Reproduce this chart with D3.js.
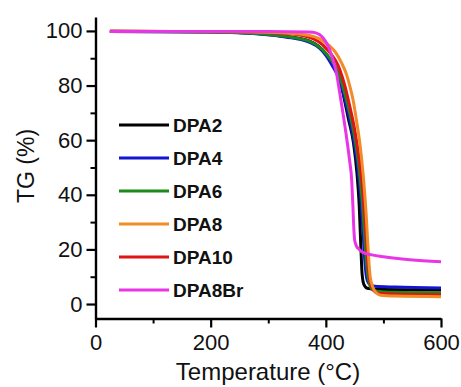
<!DOCTYPE html>
<html>
<head>
<meta charset="utf-8">
<script src="https://cdn.jsdelivr.net/npm/d3@7"></script>
<style>
  body { margin: 0; background: #fff; }
  svg { display: block; }
</style>
</head>
<body>
<div id="chart"></div>
<script>
// TG curves: [temperature °C, TG %]
const dpa2 = [[25, 99.9], [200, 99.7], [285, 99.0], [330, 98.0], [372, 96.3], [401, 91.5], [412, 88], [424, 82.5], [430, 77], [439, 68], [448, 59], [454, 48], [458, 36], [461, 20], [463, 11], [466, 7.2], [472, 5.8], [490, 5.4], [600, 5.1]];
const dpa4 = [[25, 99.8], [200, 99.6], [285, 98.9], [330, 97.8], [372, 95.8], [390, 93.5], [401, 90.8], [412, 87], [424, 82], [433, 75], [442, 67], [450, 58], [456, 49], [461, 38], [465, 25], [468, 15], [471, 9.5], [476, 7.2], [485, 6.5], [520, 6.2], [600, 5.9]];
const dpa6 = [[25, 99.8], [200, 99.6], [285, 99.0], [330, 98.0], [372, 96.2], [401, 91.5], [424, 83.5], [433, 77], [442, 69.5], [450, 61], [457, 51], [463, 38], [467, 26], [471, 14], [475, 8], [480, 5.5], [490, 4.6], [520, 4.3], [600, 4.1]];
const dpa8 = [[25, 99.9], [250, 99.7], [330, 99.2], [370, 98.4], [390, 97.0], [405, 94.8], [418, 91.8], [428, 88], [436, 84], [442, 79.5], [448, 74], [453, 67.5], [459, 59], [465, 47], [470, 33], [474, 18], [477, 10], [482, 6], [488, 4], [495, 3.2], [520, 2.9], [600, 2.7]];
const dpa10 = [[25, 99.9], [250, 99.7], [330, 99.0], [370, 97.8], [401, 93.5], [424, 86], [433, 80], [442, 72], [450, 64], [458, 53], [464, 42], [469, 28], [473, 15], [477, 8], [483, 5], [490, 4], [520, 3.6], [600, 3.4]];
const dpa8Br = [[25, 99.8], [300, 99.8], [370, 99.6], [384, 99.2], [395, 97.5], [405, 94], [413, 89], [419, 84], [424, 77.5], [430, 69.5], [436, 61], [441, 53], [445, 45], [447, 36], [448.5, 28], [450, 23.5], [453, 21.3], [458, 20], [465, 18.8], [480, 18], [500, 17.3], [546, 16.2], [600, 15.5]];

const seriesNames = ["DPA2", "DPA4", "DPA6", "DPA8", "DPA10", "DPA8Br"];
const seriesData = [dpa2, dpa4, dpa6, dpa8, dpa10, dpa8Br];
const seriesColors = ["#000000", "#1414d2", "#1b8a1b", "#f28c28", "#e01414", "#ea35e6"];
// drawing order (red sits under orange, magenta on top)
const drawOrder = [0, 1, 2, 4, 3, 5];

const xMajor = [0, 200, 400, 600];
const xMinor = [100, 300, 500];
const yMajor = [0, 20, 40, 60, 80, 100];
const yMinor = [10, 30, 50, 70, 90];

const width = 461, height = 387;
const font = "Arial, 'Liberation Sans', sans-serif";

const svg = d3.select("#chart").append("svg")
    .attr("width", width)
    .attr("height", height)
    .style("font-family", font);

const x = d3.scaleLinear().domain([0, 600]).range([95.5, 441]);
const y = d3.scaleLinear().domain([-5.3, 105.1]).range([318.5, 17]);

// minor ticks
svg.append("g")
    .attr("transform", `translate(0,${y.range()[0]})`)
    .call(d3.axisBottom(x).tickValues(xMinor).tickSize(5).tickFormat(""))
    .call(g => g.select(".domain").remove())
    .selectAll("line").attr("stroke-width", 2);
svg.append("g")
    .attr("transform", `translate(${x.range()[0]},0)`)
    .call(d3.axisLeft(y).tickValues(yMinor).tickSize(5).tickFormat(""))
    .call(g => g.select(".domain").remove())
    .selectAll("line").attr("stroke-width", 2);

// major axes
const xAxis = svg.append("g")
    .attr("transform", `translate(0,${y.range()[0]})`)
    .call(d3.axisBottom(x).tickValues(xMajor).tickSize(9).tickSizeOuter(0).tickPadding(7));
const yAxis = svg.append("g")
    .attr("transform", `translate(${x.range()[0]},0)`)
    .call(d3.axisLeft(y).tickValues(yMajor).tickSize(9).tickSizeOuter(0).tickPadding(4));

[xAxis, yAxis].forEach(g => {
    g.select(".domain").attr("stroke-width", 2.4);
    g.selectAll(".tick line").attr("stroke-width", 2.2);
    g.selectAll("text")
        .style("font-family", font)
        .style("font-size", "22px")
        .attr("fill", "#111");
});

// curves
const line = d3.line()
    .x(d => x(d[0]))
    .y(d => y(d[1]))
    .curve(d3.curveMonotoneX);

svg.append("g")
    .selectAll("path")
    .data(drawOrder)
    .join("path")
    .attr("d", i => line(seriesData[i]))
    .attr("fill", "none")
    .attr("stroke", i => seriesColors[i])
    .attr("stroke-width", 3)
    .attr("stroke-linejoin", "round");

// legend
const legend = svg.append("g").attr("transform", "translate(119,125)");
const rows = legend.selectAll("g")
    .data(seriesNames)
    .join("g")
    .attr("transform", (d, i) => `translate(0,${i * 33})`);
rows.append("line")
    .attr("x1", 0).attr("x2", 50)
    .attr("stroke", (d, i) => seriesColors[i])
    .attr("stroke-width", 3);
rows.append("text")
    .attr("x", 54)
    .attr("dy", "0.36em")
    .style("font-size", "19px")
    .style("font-weight", "bold")
    .attr("fill", "#111")
    .text(d => d);

// axis titles
svg.append("text")
    .attr("x", 268)
    .attr("y", 380)
    .attr("text-anchor", "middle")
    .style("font-size", "24px")
    .attr("fill", "#111")
    .text("Temperature (°C)");

svg.append("text")
    .attr("transform", "translate(34,166) rotate(-90)")
    .attr("text-anchor", "middle")
    .style("font-size", "23px")
    .attr("fill", "#111")
    .text("TG (%)");
</script>
</body>
</html>
